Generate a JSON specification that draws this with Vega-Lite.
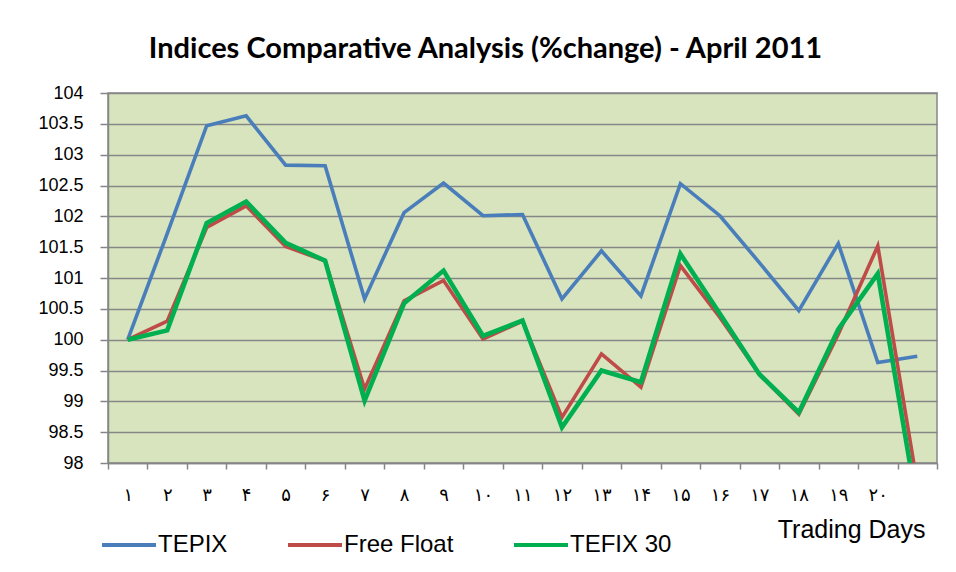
{
  "$schema": "https://vega.github.io/schema/vega-lite/v6.json",
  "width": 829,
  "height": 370,
  "autosize": {"type": "none"},
  "padding": {"left": 108, "top": 93, "right": 19, "bottom": 109},
  "background": "white",
  "title": {
    "text": "Indices Comparative Analysis (%change) - April 2011",
    "font": "Lato",
    "fontSize": 29,
    "fontWeight": "bold",
    "color": "#000000",
    "anchor": "middle",
    "dx": -37,
    "dy": 37,
    "baseline": "alphabetic",
    "offset": 34
  },
  "data": {
    "values": [
      {"day": 1, "series": "TEPIX", "value": 100},
      {"day": 2, "series": "TEPIX", "value": 101.72},
      {"day": 3, "series": "TEPIX", "value": 103.47},
      {"day": 4, "series": "TEPIX", "value": 103.63},
      {"day": 5, "series": "TEPIX", "value": 102.83},
      {"day": 6, "series": "TEPIX", "value": 102.82},
      {"day": 7, "series": "TEPIX", "value": 100.66},
      {"day": 8, "series": "TEPIX", "value": 102.06},
      {"day": 9, "series": "TEPIX", "value": 102.54},
      {"day": 10, "series": "TEPIX", "value": 102.01},
      {"day": 11, "series": "TEPIX", "value": 102.03},
      {"day": 12, "series": "TEPIX", "value": 100.66},
      {"day": 13, "series": "TEPIX", "value": 101.44},
      {"day": 14, "series": "TEPIX", "value": 100.71},
      {"day": 15, "series": "TEPIX", "value": 102.53},
      {"day": 16, "series": "TEPIX", "value": 102.01},
      {"day": 17, "series": "TEPIX", "value": 101.25},
      {"day": 18, "series": "TEPIX", "value": 100.47},
      {"day": 19, "series": "TEPIX", "value": 101.56},
      {"day": 20, "series": "TEPIX", "value": 99.63},
      {"day": 21, "series": "TEPIX", "value": 99.73},
      {"day": 1, "series": "Free Float", "value": 100},
      {"day": 2, "series": "Free Float", "value": 100.3},
      {"day": 3, "series": "Free Float", "value": 101.82},
      {"day": 4, "series": "Free Float", "value": 102.17},
      {"day": 5, "series": "Free Float", "value": 101.51},
      {"day": 6, "series": "Free Float", "value": 101.28},
      {"day": 7, "series": "Free Float", "value": 99.2},
      {"day": 8, "series": "Free Float", "value": 100.63},
      {"day": 9, "series": "Free Float", "value": 100.96},
      {"day": 10, "series": "Free Float", "value": 100.01},
      {"day": 11, "series": "Free Float", "value": 100.3},
      {"day": 12, "series": "Free Float", "value": 98.74},
      {"day": 13, "series": "Free Float", "value": 99.77},
      {"day": 14, "series": "Free Float", "value": 99.23},
      {"day": 15, "series": "Free Float", "value": 101.2},
      {"day": 16, "series": "Free Float", "value": 100.36},
      {"day": 17, "series": "Free Float", "value": 99.44},
      {"day": 18, "series": "Free Float", "value": 98.79},
      {"day": 19, "series": "Free Float", "value": 100.09},
      {"day": 20, "series": "Free Float", "value": 101.52},
      {"day": 21, "series": "Free Float", "value": 97.66},
      {"day": 1, "series": "TEFIX 30", "value": 100},
      {"day": 2, "series": "TEFIX 30", "value": 100.15},
      {"day": 3, "series": "TEFIX 30", "value": 101.89},
      {"day": 4, "series": "TEFIX 30", "value": 102.24},
      {"day": 5, "series": "TEFIX 30", "value": 101.57},
      {"day": 6, "series": "TEFIX 30", "value": 101.28},
      {"day": 7, "series": "TEFIX 30", "value": 99.01},
      {"day": 8, "series": "TEFIX 30", "value": 100.59},
      {"day": 9, "series": "TEFIX 30", "value": 101.12},
      {"day": 10, "series": "TEFIX 30", "value": 100.06},
      {"day": 11, "series": "TEFIX 30", "value": 100.31},
      {"day": 12, "series": "TEFIX 30", "value": 98.58},
      {"day": 13, "series": "TEFIX 30", "value": 99.5},
      {"day": 14, "series": "TEFIX 30", "value": 99.31},
      {"day": 15, "series": "TEFIX 30", "value": 101.39},
      {"day": 16, "series": "TEFIX 30", "value": 100.42},
      {"day": 17, "series": "TEFIX 30", "value": 99.44},
      {"day": 18, "series": "TEFIX 30", "value": 98.82},
      {"day": 19, "series": "TEFIX 30", "value": 100.17},
      {"day": 20, "series": "TEFIX 30", "value": 101.07},
      {"day": 21, "series": "TEFIX 30", "value": 97.29}
    ]
  },
  "encoding": {
    "x": {
      "field": "day",
      "type": "ordinal",
      "scale": {"type": "band", "paddingInner": 0, "paddingOuter": 0},
      "axis": {
        "title": "Trading Days",
        "titleFont": "Liberation Sans",
        "titleFontSize": 25,
        "titleFontWeight": "normal",
        "titleColor": "#000000",
        "titleAnchor": "end",
        "titleAlign": "right",
        "titleBaseline": "alphabetic",
        "titleX": 817,
        "titleY": 74,
        "labelAngle": 0,
        "labelFont": "DejaVu Sans",
        "labelFontSize": 18,
        "labelColor": "#000000",
        "labelPadding": 17,
        "labelExpr": "['۱','۲','۳','۴','۵','۶','۷','۸','۹','۱۰','۱۱','۱۲','۱۳','۱۴','۱۵','۱۶','۱۷','۱۸','۱۹','۲۰',''][datum.value-1]",
        "tickBand": "extent",
        "tickSize": 6,
        "tickColor": "#868686",
        "tickWidth": 1.5,
        "domainColor": "#868686",
        "domainWidth": 1.5,
        "grid": false
      }
    },
    "y": {
      "field": "value",
      "type": "quantitative",
      "scale": {"domain": [98, 104], "zero": false, "nice": false},
      "axis": {
        "title": null,
        "values": [98, 98.5, 99, 99.5, 100, 100.5, 101, 101.5, 102, 102.5, 103, 103.5, 104],
        "format": "~g",
        "labelFont": "Liberation Sans",
        "labelFontSize": 18,
        "labelColor": "#000000",
        "labelPadding": 17,
        "tickSize": 8,
        "tickColor": "#868686",
        "tickWidth": 1.5,
        "domainColor": "#868686",
        "domainWidth": 1.5,
        "grid": true,
        "gridColor": "#868686",
        "gridWidth": 1.5
      }
    },
    "color": {
      "field": "series",
      "type": "nominal",
      "scale": {"domain": ["TEPIX", "Free Float", "TEFIX 30"], "range": ["#4a7ebb", "#be4b48", "#00b050"]},
      "legend": {
        "title": null,
        "orient": "none",
        "direction": "horizontal",
        "legendX": -8,
        "legendY": 423,
        "symbolType": "stroke",
        "symbolSize": 2916,
        "symbolStrokeWidth": 4,
        "labelFont": "Liberation Sans",
        "labelFontSize": 24,
        "labelColor": "#000000",
        "labelOffset": 0,
        "columnPadding": 52,
        "symbolOffset": 0
      }
    }
  },
  "layer": [
    {"transform": [{"filter": "datum.series === 'TEPIX'"}], "mark": {"type": "line", "strokeWidth": 3.6, "clip": true}},
    {"transform": [{"filter": "datum.series === 'Free Float'"}], "mark": {"type": "line", "strokeWidth": 3.6, "clip": true}},
    {"transform": [{"filter": "datum.series === 'TEFIX 30'"}], "mark": {"type": "line", "strokeWidth": 4.6, "clip": true}}
  ],
  "config": {
    "view": {"fill": "#d7e4bd", "stroke": "#868686", "strokeWidth": 1.5}
  }
}
